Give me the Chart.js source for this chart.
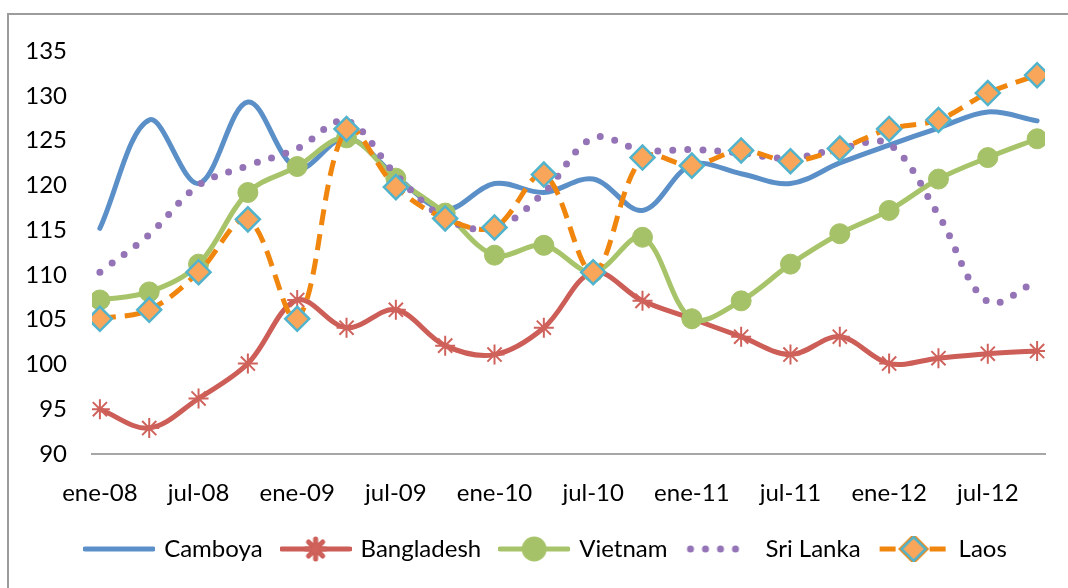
<!DOCTYPE html>
<html>
<head>
<meta charset="utf-8">
<script src="https://cdn.jsdelivr.net/npm/chart.js@4.4.1/dist/chart.umd.min.js"></script>
<style>
  html, body { margin: 0; padding: 0; background: #fff; }
  #wrap { width: 1068px; height: 588px; position: relative; }
</style>
</head>
<body>
<div id="wrap"><canvas id="chart"></canvas></div>
<script>
// Quarterly periods, only every other one is labelled on the axis
const periods = ['ene-08','abr-08','jul-08','oct-08','ene-09','abr-09','jul-09','oct-09',
  'ene-10','abr-10','jul-10','oct-10','ene-11','abr-11','jul-11','oct-11',
  'ene-12','abr-12','jul-12','oct-12'];

const camboya    = [115.2,127.3,120.2,129.3,121.9,125.3,121.0,117.3,120.2,119.2,120.7,117.2,122.3,121.3,120.2,122.5,124.5,126.4,128.2,127.2];
const bangladesh = [95.0,92.9,96.2,100.1,107.2,104.1,106.1,102.1,101.1,104.1,110.3,107.1,105.1,103.1,101.1,103.1,100.1,100.7,101.2,101.5];
const vietnam    = [107.2,108.1,111.2,119.2,122.1,125.3,120.8,116.9,112.2,113.3,110.3,114.2,105.1,107.1,111.2,114.6,117.2,120.7,123.1,125.2];
const sriLanka   = [110.3,114.5,120.0,122.2,124.1,127.2,121.2,116.3,115.2,119.2,125.3,123.9,124.0,123.6,123.0,124.1,124.6,116.7,107.0,109.3];
const laos       = [105.1,106.1,110.3,116.2,105.1,126.3,119.8,116.3,115.3,121.2,110.3,123.1,122.2,123.9,122.7,124.1,126.3,127.3,130.3,132.3];

const yTicks = { min: 90, max: 135, step: 5 };

const FONT = { family: 'Lato', size: 24 };

const xy = arr => arr.map((v, i) => ({ x: i, y: v }));

// little canvas used as legend symbol: line sample + marker
function legendIcon(ds) {
  const c = document.createElement('canvas');
  c.width = 72; c.height = 26;
  const g = c.getContext('2d');
  g.strokeStyle = ds.borderColor;
  g.lineWidth = ds.borderWidth;
  g.lineCap = ds.borderCapStyle || 'round';
  g.setLineDash(ds.borderDash || []);
  g.beginPath();
  if (ds.borderDash && ds.borderDash[0] === 0) {
    g.moveTo(6, 13); g.lineTo(66, 13);
  } else {
    g.moveTo(2, 13); g.lineTo(70, 13);
  }
  g.stroke();
  g.setLineDash([]);
  if (ds.pointRadius > 0) {
    Chart.helpers.drawPoint(g, {
      pointStyle: ds.pointStyle,
      radius: ds.pointRadius,
      borderWidth: ds.pointBorderWidth
    }, 36, 13);
    g.fillStyle = ds.pointBackgroundColor;
    g.strokeStyle = ds.pointBorderColor;
    g.lineWidth = ds.pointBorderWidth;
    g.fill();
    g.stroke();
  }
  return c;
}

const frame = {
  id: 'frame',
  afterLayout(chart) {
    // legend sits a little right of centre in the original
    chart.legend.left += 24;
    chart.legend.right += 24;
  },
  beforeDraw(chart) {
    const g = chart.ctx;
    g.save();
    g.fillStyle = '#fff';
    g.fillRect(0, 0, chart.width, chart.height);
    g.strokeStyle = '#9c9c9c';
    g.lineWidth = 2;
    g.strokeRect(8, 14, chart.width + 20, chart.height + 20);
    g.restore();
  }
};

new Chart(document.getElementById('chart'), {
  type: 'line',
  data: {
    datasets: [
      {
        label: 'Camboya', data: xy(camboya), order: 5,
        borderColor: '#5B8FC8', borderWidth: 5, tension: 0.35,
        pointRadius: 0, borderCapStyle: 'round'
      },
      {
        label: 'Bangladesh', data: xy(bangladesh), order: 4,
        borderColor: '#CC5D57', borderWidth: 5, tension: 0.35,
        pointStyle: 'star', pointRadius: 10, pointBorderWidth: 2,
        pointBorderColor: '#D0625C', pointBackgroundColor: '#D0625C', borderCapStyle: 'round'
      },
      {
        label: 'Vietnam', data: xy(vietnam), order: 3,
        borderColor: '#A8C46A', borderWidth: 5, tension: 0.35,
        pointStyle: 'circle', pointRadius: 10, pointBorderWidth: 1,
        pointBorderColor: '#A6C268', pointBackgroundColor: '#A6C268', borderCapStyle: 'round'
      },
      {
        label: 'Sri Lanka', data: xy(sriLanka), order: 2,
        borderColor: '#9474B6', borderWidth: 7, tension: 0.35,
        borderDash: [0, 15], borderCapStyle: 'round', pointRadius: 0
      },
      {
        label: 'Laos', data: xy(laos), order: 1,
        borderColor: '#F0860E', borderWidth: 5, tension: 0.35,
        borderDash: [16, 9], borderCapStyle: 'butt',
        pointStyle: 'rectRot', pointRadius: 12, pointBorderWidth: 2.5,
        pointBorderColor: '#52B3CC', pointBackgroundColor: '#F9A65A'
      }
    ]
  },
  options: {
    responsive: true,
    maintainAspectRatio: false,
    animation: false,
    layout: { padding: { top: 51, right: 23, bottom: 17, left: 0 } },
    scales: {
      x: {
        type: 'linear',
        min: -0.16, max: 19.16,
        grid: { display: false, drawTicks: false },
        border: { display: true, color: '#A6A6A6', width: 2 },
        ticks: {
          stepSize: 2, includeBounds: false, autoSkip: false, maxRotation: 0,
          font: FONT, color: '#000', padding: 25,
          callback: v => periods[v]
        },
        afterFit: s => { s.height = 63; }
      },
      y: {
        min: yTicks.min, max: yTicks.max,
        grid: { display: false, drawTicks: false },
        border: { display: false },
        ticks: { stepSize: yTicks.step, font: FONT, color: '#000', padding: 25 },
        afterFit: s => { s.width = 92; }
      }
    },
    plugins: {
      tooltip: { enabled: false },
      legend: {
        position: 'bottom',
        labels: {
          usePointStyle: true,
          pointStyleWidth: 66,
          padding: 20,
          font: FONT,
          color: '#000',
          generateLabels: chart => chart.data.datasets.map((ds, i) => ({
            text: ds.label,
            datasetIndex: i,
            pointStyle: legendIcon(ds),
            fillStyle: 'transparent',
            strokeStyle: 'transparent',
            lineWidth: 0,
            hidden: false,
            fontColor: '#000'
          }))
        }
      }
    }
  },
  plugins: [frame]
});
</script>
</body>
</html>
